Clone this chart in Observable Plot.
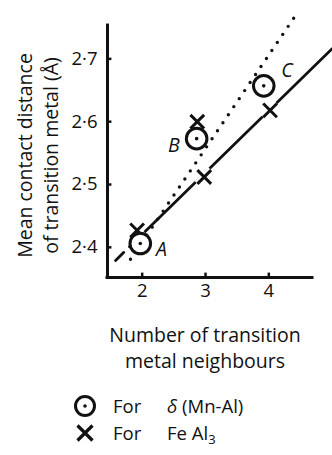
<!DOCTYPE html>
<html><head><meta charset="utf-8">
<script src="https://cdn.jsdelivr.net/npm/d3@7"></script>
<script src="https://cdn.jsdelivr.net/npm/@observablehq/plot@0.6"></script>
<style>
body{margin:0;background:#fff;font-family:"Open Sans",Lato,sans-serif;color:#111;}
#wrap{position:relative;width:332px;height:455px;overflow:hidden;}
#chart{position:absolute;left:0;top:0;}
.row{position:absolute;left:0;height:24px;line-height:24px;font-size:18.5px;white-space:nowrap;}
.row span{position:absolute;top:0;}
.row svg{position:absolute;top:0;}
</style></head><body><div id="wrap"><div id="chart"></div>
<div class="row" style="top:394px;width:332px">
  <svg width="26" height="24" style="left:72px"><circle cx="13" cy="12" r="9.5" fill="white" stroke="#111" stroke-width="3"/><circle cx="13" cy="12" r="1.8" fill="#111"/></svg>
  <span style="left:113px">For</span><span style="left:167px"><i>δ</i>&nbsp;(Mn-Al)</span>
</div>
<div class="row" style="top:421px;width:332px">
  <svg width="26" height="24" style="left:72px"><path d="M5.5,4.5L20.5,19.5M5.5,19.5L20.5,4.5" stroke="#111" stroke-width="3.2" fill="none"/></svg>
  <span style="left:113px">For</span><span style="left:167px">Fe Al<sub style="font-size:13px;vertical-align:-4px;line-height:0">3</sub></span>
</div>
</div>
<script>
// axes
const xTicks = [2, 3, 4];
const xTickLabels = ["2", "3", "4"];
const yTicks = [2.4, 2.5, 2.6, 2.7];
const yTickLabels = ["2·4", "2·5", "2·6", "2·7"];
const xDomain = [1.452, 5.006];
const yDomain = [2.352, 2.769];
const xAxisEnd = 4.69;
const yAxisEnd = 2.753;
const xLabel = "Number of transition\nmetal neighbours";
const yLabel = "Mean contact distance\nof transition metal (Å)";

// δ (Mn-Al) points (circles)
const deltaN = [1.97, 2.86, 3.92];
const deltaD = [2.406, 2.573, 2.657];
const deltaNames = ["A", "B", "C"];
const deltaNameN = [2.305, 2.500, 4.287];
const deltaNameD = [2.396, 2.562, 2.681];

// FeAl3 points (crosses)
const feN = [1.92, 2.87, 2.98, 4.02];
const feD = [2.427, 2.600, 2.512, 2.618];

// solid line (FeAl3), two pieces: short dash + main
const solidSeg = ["dash", "dash", "main", "main"];
const solidN = [1.58, 1.71, 1.80, 5.00];
const solidD = [2.379, 2.392, 2.401, 2.716];

// dotted line (δ)
const dottedN = [1.815, 4.422];
const dottedD = [2.381, 2.769];

const delta = deltaN.map((n, i) => ({n, d: deltaD[i]}));
const deltaLab = deltaNames.map((t, i) => ({t, n: deltaNameN[i], d: deltaNameD[i]}));
const fe = feN.map((n, i) => ({n, d: feD[i]}));
const solid = solidN.map((n, i) => ({n, d: solidD[i], s: solidSeg[i]}));
const dotted = dottedN.map((n, i) => ({n, d: dottedD[i]}));

const ink = "#111";
const chart = Plot.plot({
  width: 332, height: 380,
  marginLeft: 107, marginRight: 0, marginTop: 15, marginBottom: 103,
  x: {domain: xDomain},
  y: {domain: yDomain},
  style: {fontFamily: "'Open Sans', Lato, sans-serif", background: "white", color: ink},
  marks: [
    Plot.ruleY([yDomain[0]], {x1: xDomain[0], x2: xAxisEnd, stroke: ink, strokeWidth: 3, strokeLinecap: "square"}),
    Plot.ruleX([xDomain[0]], {y1: yDomain[0], y2: yAxisEnd, stroke: ink, strokeWidth: 3, strokeLinecap: "square"}),
    Plot.ruleX(xTicks, {x: d => d, y1: yDomain[0], y2: yDomain[0] + 0.007, stroke: ink, strokeWidth: 2.5}),
    Plot.ruleY(yTicks, {y: d => d, x1: xDomain[0], x2: xDomain[0] + 0.07, stroke: ink, strokeWidth: 2.5}),
    Plot.axisX(xTicks, {tickSize: 0, tickPadding: 6, fontSize: 18.5, label: null, tickFormat: d => xTickLabels[xTicks.indexOf(d)]}),
    Plot.axisY(yTicks, {tickSize: 0, tickPadding: 10, fontSize: 18.5, label: null, tickFormat: d => yTickLabels[yTicks.indexOf(d)]}),
    Plot.text([xLabel], {text: d => d, frameAnchor: "bottom", textAnchor: "middle", dx: -15, dy: 69, lineAnchor: "middle", fontSize: 19.5, lineHeight: 1.35, fill: ink}),
    Plot.text([yLabel], {text: d => d, frameAnchor: "left", textAnchor: "middle", rotate: -90, dx: -71, dy: 9, lineAnchor: "middle", fontSize: 19.5, lineHeight: 1.35, fill: ink}),
    Plot.line(dotted, {x: "n", y: "d", stroke: ink, strokeWidth: 3.4, strokeDasharray: "0 9.7", strokeLinecap: "round"}),
    Plot.line(solid, {x: "n", y: "d", z: "s", stroke: ink, strokeWidth: 2.8}),
    Plot.dot(fe, {x: "n", y: "d", symbol: "times", r: 6.3, stroke: "white", strokeWidth: 8}),
    Plot.dot(fe, {x: "n", y: "d", symbol: "times", r: 6.3, stroke: ink, strokeWidth: 3}),
    Plot.dot(delta, {x: "n", y: "d", r: 10.3, fill: "white", stroke: ink, strokeWidth: 3}),
    Plot.dot(delta, {x: "n", y: "d", r: 1.8, fill: ink}),
    Plot.text(deltaLab, {x: "n", y: "d", text: "t", fontSize: 19.5, fontStyle: "italic", fill: ink})
  ]
});
document.getElementById("chart").appendChild(chart);
</script></body></html>
